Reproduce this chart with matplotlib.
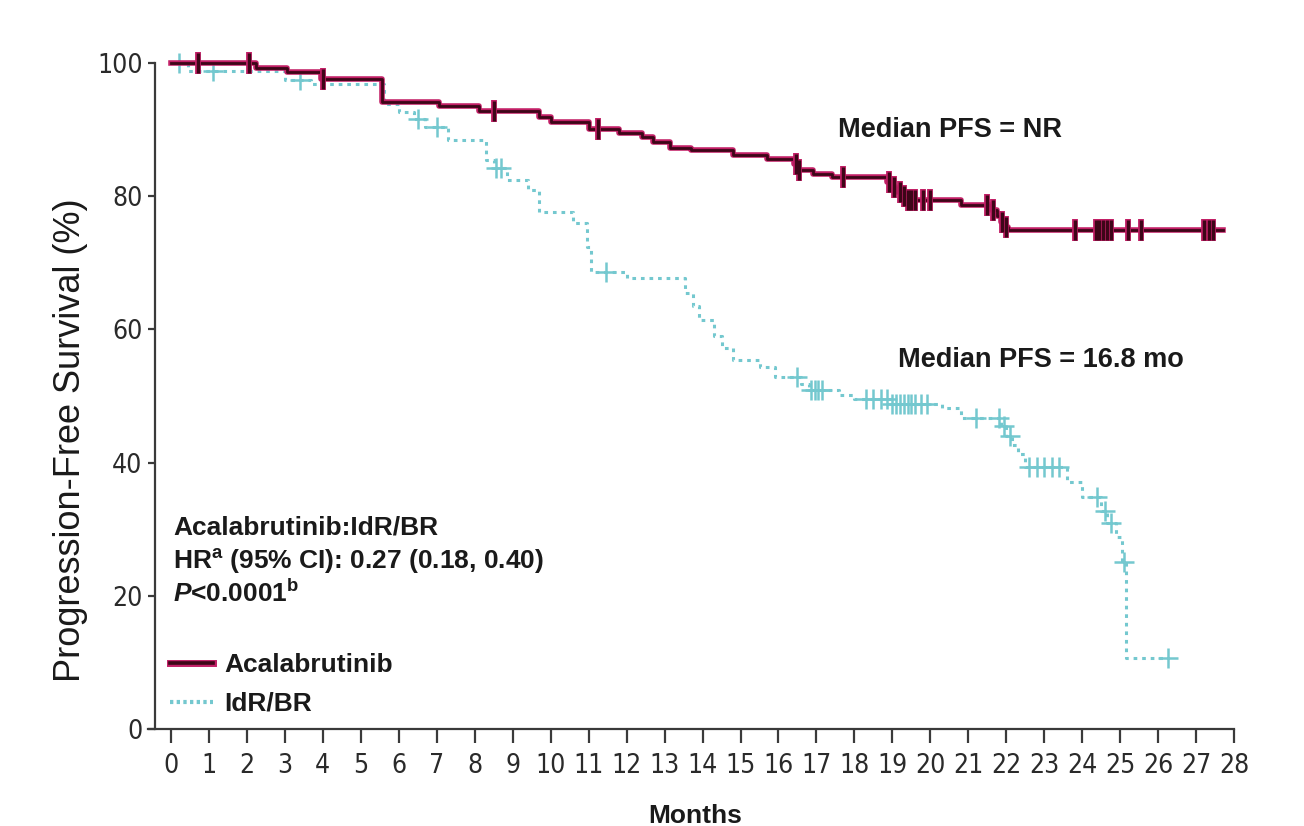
import numpy as np
import matplotlib.pyplot as plt
from matplotlib import font_manager
from matplotlib.font_manager import FontProperties
from matplotlib.lines import Line2D

# Kaplan-Meier curves: month of each drop and survival (%) right after it
acala_times = [0, 2.25, 3.05, 3.95, 5.55, 7.05, 8.1, 9.7, 10.0, 11.0, 11.8, 12.4,
               12.7, 13.15, 13.7, 14.8, 15.7, 16.4, 16.5, 16.9, 17.4, 18.85, 19.0,
               19.1, 19.25, 19.4, 20.8, 21.6, 21.75, 21.85, 21.95, 22.05]
acala_surv = [100, 99.2, 98.6, 97.6, 94.1, 93.6, 92.8, 91.9, 91.1, 90.1, 89.5, 88.9,
              88.1, 87.3, 86.9, 86.2, 85.6, 84.9, 83.9, 83.3, 82.9, 82.2, 81.4,
              80.7, 80.0, 79.4, 78.7, 77.9, 77.0, 76.2, 75.4, 75.0]
acala_end = 27.7
acala_censor = [0.7, 2.05, 4.0, 8.5, 11.25, 16.45, 16.55, 17.7, 18.9, 19.05, 19.2,
                19.3, 19.4, 19.5, 19.6, 19.8, 20.0, 21.5, 21.65, 21.9, 22.0, 23.8,
                24.35, 24.45, 24.55, 24.65, 24.75, 25.2, 25.55, 27.2, 27.35, 27.45]

idr_times = [0, 0.45, 3.0, 3.7, 5.6, 6.0, 6.4, 6.7, 7.3, 8.3, 8.5, 8.85, 9.4, 9.7,
             10.6, 10.95, 11.05, 12.0, 13.55, 13.75, 13.9, 14.3, 14.5, 14.8, 15.5,
             15.9, 16.6, 16.8, 17.6, 18.0, 19.0, 20.3, 20.8, 21.85, 22.0, 22.15,
             22.3, 22.5, 23.6, 24.0, 24.5, 24.65, 24.9, 25.05, 25.15]
idr_surv = [100, 98.8, 97.4, 96.8, 93.8, 92.6, 91.6, 90.4, 88.4, 85.4, 84.2, 82.4,
            80.9, 77.6, 76.0, 72.4, 68.6, 67.7, 65.5, 63.5, 61.4, 59.0, 57.2, 55.4,
            54.4, 52.9, 51.8, 50.9, 50.2, 49.6, 48.8, 48.2, 46.7, 45.5, 44.0, 42.6,
            41.3, 39.4, 37.1, 34.8, 32.8, 30.9, 28.8, 25.1, 10.7]
idr_end = 26.25
idr_censor = [0.2, 1.1, 3.4, 6.5, 7.0, 8.55, 8.7, 11.45, 16.5, 16.85, 16.95, 17.05,
              17.15, 18.3, 18.5, 18.7, 18.85, 19.0, 19.1, 19.2, 19.3, 19.4, 19.5,
              19.6, 19.75, 19.9, 21.2, 21.8, 21.95, 22.1, 22.6, 22.8, 23.0, 23.2,
              23.4, 24.4, 24.6, 24.75, 25.1, 26.25]

month_ticks = list(range(0, 29))
pct_ticks = [0, 20, 40, 60, 80, 100]

acala_edge = '#c21f66'
acala_core = '#3d0618'
idr_color = '#74c8cf'

plt.rcParams['font.family'] = ['Liberation Sans', 'DejaVu Sans']
plt.rcParams['mathtext.fontset'] = 'custom'
plt.rcParams['mathtext.rm'] = 'Liberation Sans:bold'
plt.rcParams['mathtext.it'] = 'Liberation Sans:italic:bold'
plt.rcParams['mathtext.bf'] = 'Liberation Sans:bold'

# tick numbers are set in a condensed face when one is installed
tick_font = FontProperties(family='Liberation Sans', size=17)
cond = FontProperties(family='DejaVu Sans', stretch='condensed', size=19)
if 'condensed' in font_manager.findfont(cond).lower():
    tick_font = cond


def km_path(times, surv, end):
    t = np.append(times, end)
    s = np.append(surv, surv[-1])
    return t, s


def at_time(times, surv, c):
    i = np.searchsorted(times, c, side='right') - 1
    return np.asarray(surv)[i]


fig = plt.figure(figsize=(13.04, 8.26), dpi=100)
ax = fig.add_axes([0.1189, 0.1174, 0.8275, 0.8063])

# IdR/BR arm: dotted cyan with + censor marks
t, s = km_path(idr_times, idr_surv, idr_end)
ax.step(t, s, where='post', color=idr_color, lw=2.2, ls=(0, (1.2, 1.6)), clip_on=False)
ax.plot(idr_censor, at_time(idr_times, idr_surv, idr_censor), ls='none', marker='+',
        ms=14, mew=1.8, color=idr_color, clip_on=False)

# Acalabrutinib arm: dark line with magenta rim and tick censor marks
t, s = km_path(acala_times, acala_surv, acala_end)
ax.step(t, s, where='post', color=acala_edge, lw=4.0, clip_on=False)
ax.step(t, s, where='post', color=acala_core, lw=2.0, clip_on=False)
cy = at_time(acala_times, acala_surv, acala_censor)
ax.plot(acala_censor, cy, ls='none', marker='|', ms=16, mew=4.2, color=acala_edge, clip_on=False)
ax.plot(acala_censor, cy, ls='none', marker='|', ms=15, mew=2.4, color=acala_core, clip_on=False)

ax.set_xlim(-0.42, 28)
ax.set_ylim(0, 100)
ax.set_xticks(month_ticks)
ax.set_yticks(pct_ticks)
for sp in ['top', 'right']:
    ax.spines[sp].set_visible(False)
for sp in ['left', 'bottom']:
    ax.spines[sp].set_color('#3a3a3a')
    ax.spines[sp].set_linewidth(1.6)
ax.spines['bottom'].set_bounds(-0.6, 28)
ax.tick_params(axis='x', length=10, width=1.6, color='#3a3a3a', pad=7, labelcolor='#2a2a2a')
ax.tick_params(axis='y', length=5, width=1.6, color='#3a3a3a', pad=4, labelcolor='#2a2a2a')
for lab in ax.get_xticklabels() + ax.get_yticklabels():
    lab.set_fontproperties(tick_font)

ax.set_ylabel('Progression-Free Survival (%)', fontsize=26, color='#1a1a1a')
ax.yaxis.set_label_coords(-0.062, 0.434)
ax.set_xlabel('Months', fontsize=19, fontweight='bold', color='#1a1a1a')
ax.xaxis.set_label_coords(0.5005, -0.112)

ax.text(17.57, 89.9, 'Median PFS = NR', fontsize=19.5, fontweight='bold',
        color='#1a1a1a', va='center', ha='left')
ax.text(19.15, 55.4, 'Median PFS = 16.8 mo', fontsize=19.5, fontweight='bold',
        color='#1a1a1a', va='center', ha='left')

ax.text(0.05, 30.3, 'Acalabrutinib:IdR/BR', fontsize=19, fontweight='bold',
        color='#1a1a1a', va='center')
ax.text(0.05, 25.1, r'HR$^{\mathrm{a}}$ (95% CI): 0.27 (0.18, 0.40)', fontsize=19,
        fontweight='bold', color='#1a1a1a', va='center')
ax.text(0.05, 20.3, r'$\mathit{P}$<0.0001$^{\mathrm{b}}$', fontsize=19,
        fontweight='bold', color='#1a1a1a', va='center')

h_acala = (Line2D([], [], color=acala_edge, lw=5), Line2D([], [], color=acala_core, lw=2.6))
h_idr = Line2D([], [], color=idr_color, lw=3, ls=(0, (0.8, 0.8)))
leg = ax.legend([h_acala, h_idr], ['Acalabrutinib', 'IdR/BR'], loc='lower left',
                bbox_to_anchor=(0.002, 0.0), frameon=False, handlelength=1.6,
                handletextpad=0.45, labelspacing=0.55, borderaxespad=0.1,
                prop={'size': 19, 'weight': 'bold'})
for txt in leg.get_texts():
    txt.set_color('#1a1a1a')

fig.savefig('out.png', dpi=100, facecolor='white')
